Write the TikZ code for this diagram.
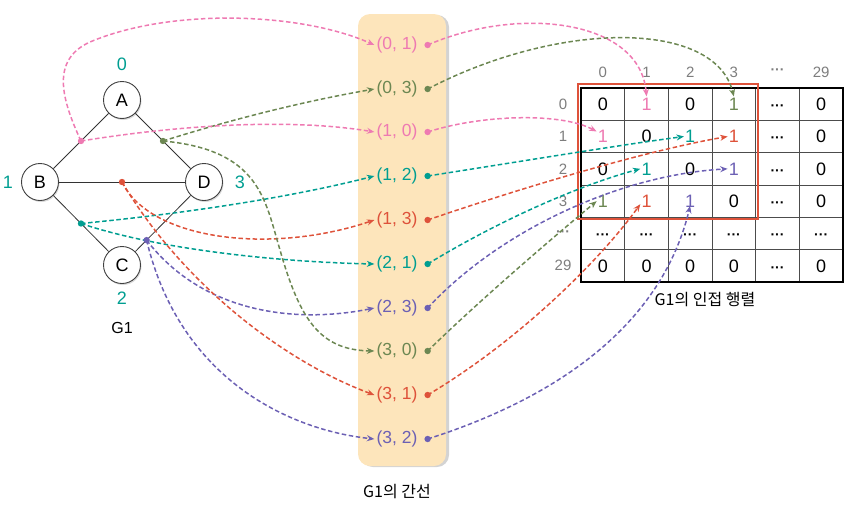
\documentclass[tikz,border=0pt]{standalone}
\usepackage{fontspec}
\setmainfont{Liberation Sans}
\newfontfamily\kr{Noto Sans CJK KR}
\usetikzlibrary{arrows.meta,shadows,calc}
\definecolor{cpink}{RGB}{238,122,178}
\definecolor{colive}{RGB}{108,135,82}
\definecolor{cred}{RGB}{222,82,58}
\definecolor{cteal}{RGB}{0,158,145}
\definecolor{cpurple}{RGB}{108,96,180}
\definecolor{cgray}{RGB}{125,125,125}
\definecolor{cfill}{RGB}{253,229,187}
\newcommand{\mydots}{{\fontsize{14}{14}\selectfont\bfseries ···}}
\tikzset{
  vert/.style={circle, draw=black!75, fill=white, line width=0.9pt, minimum size=37pt, inner sep=0pt,
    font=\fontsize{18}{18}\selectfont, drop shadow={shadow xshift=1pt,shadow yshift=-1.5pt,opacity=0.3}},
  gedge/.style={line width=0.8pt, draw=black!80},
  vlab/.style={text=cteal, font=\fontsize{18}{18}\selectfont},
  elab/.style={inner sep=2pt, font=\fontsize{17.5}{17.5}\selectfont},
  cell/.style={inner sep=1pt, font=\fontsize{18}{18}\selectfont, text height=13pt, text depth=0pt},
  hdr/.style={text=cgray, font=\fontsize{15}{15}\selectfont},
  conn/.style={dash pattern=on 4.5pt off 2.6pt, line width=1.5pt, -{Stealth[length=7.5pt,width=6pt]}},
  caption/.style={font=\kr\fontsize{16}{16}\selectfont}
}
\begin{document}
\begin{tikzpicture}[x=1pt,y=-1pt]
\useasboundingbox (0,0) rectangle (848,506);
% ---- graph ----
\node[vert] (A) at (122,100) {A};
\node[vert] (B) at (40,182) {B};
\node[vert] (C) at (122,265) {C};
\node[vert] (D) at (204,182) {D};
\draw[gedge] (A) -- (B);
\draw[gedge] (A) -- (D);
\draw[gedge] (B) -- (D);
\draw[gedge] (B) -- (C);
\draw[gedge] (C) -- (D);
\node[vlab] (l0) at (122,64) {0};
\node[vlab] (l1) at (8,182) {1};
\node[vlab] (l3) at (240,182) {3};
\node[vlab] (l2) at (122,298) {2};
\node[font=\fontsize{16}{16}\selectfont] (g1) at (122,328) {G1};
\coordinate (pAB) at ($(A)!0.5!(B)$);
\coordinate (pAD) at ($(A)!0.5!(D)$);
\coordinate (pBD) at ($(B)!0.5!(D)$);
\coordinate (pBC) at ($(B)!0.5!(C)$);
\coordinate (pCD) at ($(C)!0.3!(D)$);
% ---- edge column ----
\node[fill=cfill, rounded corners=12pt, minimum width=88pt, minimum height=452pt, inner sep=0pt,
  drop shadow={shadow xshift=3pt,shadow yshift=-1pt,opacity=0.35}] (col) at (402,240) {};
\node[elab,text=cpink]   (e01) at (397,45)  {(0, 1)};
\node[elab,text=colive]  (e03) at (397,89)  {(0, 3)};
\node[elab,text=cpink]   (e10) at (397,132) {(1, 0)};
\node[elab,text=cteal]   (e12) at (397,176) {(1, 2)};
\node[elab,text=cred]    (e13) at (397,220) {(1, 3)};
\node[elab,text=cteal]   (e21) at (397,264) {(2, 1)};
\node[elab,text=cpurple] (e23) at (397,308) {(2, 3)};
\node[elab,text=colive]  (e30) at (397,351) {(3, 0)};
\node[elab,text=cred]    (e31) at (397,395) {(3, 1)};
\node[elab,text=cpurple] (e32) at (397,439) {(3, 2)};
\foreach \e in {01,03,10,12,13,21,23,30,31,32}{
  \coordinate (d\e) at ([xshift=8pt]e\e.east);
}
\node[caption] (cap1) at (397,492) {G1의 간선};
% ---- matrix ----
\foreach \i in {1,...,5}{
  \draw[line width=0.8pt, black!70] ({581+43.67*\i},88) -- ({581+43.67*\i},282);
  \draw[line width=0.8pt, black!70] (581,{88+32.33*\i}) -- (843,{88+32.33*\i});
}
\draw[line width=2.2pt] (581,88) rectangle (843,282);
\def\cx#1{581+43.67*(#1+0.5)}
\def\cy#1{88+32.33*(#1+0.5)}
% row 0
\node[cell] (m00) at ({\cx0},{\cy0}) {0};
\node[cell,text=cpink] (m01) at ({\cx1},{\cy0}) {1};
\node[cell] (m02) at ({\cx2},{\cy0}) {0};
\node[cell,text=colive] (m03) at ({\cx3},{\cy0}) {1};
\node[cell] (m04) at ({\cx4},{\cy0}) {\mydots};
\node[cell] (m05) at ({\cx5},{\cy0}) {0};
% row 1
\node[cell,text=cpink] (m10) at ({\cx0},{\cy1}) {1};
\node[cell] (m11) at ({\cx1},{\cy1}) {0};
\node[cell,text=cteal] (m12) at ({\cx2},{\cy1}) {1};
\node[cell,text=cred] (m13) at ({\cx3},{\cy1}) {1};
\node[cell] (m14) at ({\cx4},{\cy1}) {\mydots};
\node[cell] (m15) at ({\cx5},{\cy1}) {0};
% row 2
\node[cell] (m20) at ({\cx0},{\cy2}) {0};
\node[cell,text=cteal] (m21) at ({\cx1},{\cy2}) {1};
\node[cell] (m22) at ({\cx2},{\cy2}) {0};
\node[cell,text=cpurple] (m23) at ({\cx3},{\cy2}) {1};
\node[cell] (m24) at ({\cx4},{\cy2}) {\mydots};
\node[cell] (m25) at ({\cx5},{\cy2}) {0};
% row 3
\node[cell,text=colive] (m30) at ({\cx0},{\cy3}) {1};
\node[cell,text=cred] (m31) at ({\cx1},{\cy3}) {1};
\node[cell,text=cpurple] (m32) at ({\cx2},{\cy3}) {1};
\node[cell] (m33) at ({\cx3},{\cy3}) {0};
\node[cell] (m34) at ({\cx4},{\cy3}) {\mydots};
\node[cell] (m35) at ({\cx5},{\cy3}) {0};
% row 4
\foreach \c in {0,...,5}{ \node[cell] (m4\c) at ({\cx\c},{\cy4}) {\mydots}; }
% row 5
\foreach \c in {0,...,3}{ \node[cell] (m5\c) at ({\cx\c},{\cy5}) {0}; }
\node[cell] (m54) at ({\cx4},{\cy5}) {\mydots};
\node[cell] (m55) at ({\cx5},{\cy5}) {0};
% headers
\node[hdr] (h0) at ({\cx0},72) {0};
\node[hdr] (h1) at ({\cx1},72) {1};
\node[hdr] (h2) at ({\cx2},72) {2};
\node[hdr] (h3) at ({\cx3},72) {3};
\node[hdr] (h4) at ({\cx4},72) {\mydots};
\node[hdr] (h5) at ({\cx5},72) {29};
\node[hdr] (r0) at (563,{\cy0}) {0};
\node[hdr] (r1) at (563,{\cy1}) {1};
\node[hdr] (r2) at (563,{\cy2}) {2};
\node[hdr] (r3) at (563,{\cy3}) {3};
\node[hdr] (r4) at (563,{\cy4}) {\mydots};
\node[hdr] (r5) at (563,{\cy5}) {29};
\draw[line width=2pt, cred] (578,84) rectangle (758,219);
\node[caption] (cap2) at (705,300) {G1의 인접 행렬};
% ---- connectors graph -> column ----
\draw[conn,cpink] (pAB) .. controls (62,100) and (50,60) .. (90,42) .. controls (170,8) and (300,12) .. (e01.west);
\draw[conn,colive] (pAD) .. controls (230,120) and (300,102) .. (e03.west);
\draw[conn,cpink] (pAB) .. controls (180,125) and (290,118) .. (e10.west);
\draw[conn,cteal] (pBC) .. controls (200,212) and (300,195) .. (e12.west);
\draw[conn,cred] (pBD) .. controls (150,240) and (270,255) .. (e13.west);
\draw[conn,cteal] (pBC) .. controls (160,250) and (280,262) .. (e21.west);
\draw[conn,cpurple] (pCD) .. controls (200,310) and (290,325) .. (e23.west);
\draw[conn,colive] (pAD) .. controls (260,150) and (265,200) .. (280,250) .. controls (300,320) and (320,350) .. (e30.west);
\draw[conn,cred] (pBD) .. controls (180,280) and (280,360) .. (e31.west);
\draw[conn,cpurple] (pCD) .. controls (180,380) and (290,430) .. (e32.west);
% ---- connectors column -> matrix ----
\draw[conn,cpink] (d01) .. controls (520,5) and (640,20) .. (m01.north);
\draw[conn,colive] (d03) .. controls (560,20) and (715,20) .. (m03.north);
\draw[conn,cpink] (d10) .. controls (480,115) and (560,112) .. ([yshift=5pt]m10.west);
\draw[conn,cteal] (d12) .. controls (530,160) and (620,145) .. (m12.west);
\draw[conn,cred] (d13) .. controls (530,185) and (650,150) .. (m13.west);
\draw[conn,cteal] (d21) .. controls (500,220) and (580,185) .. (m21.west);
\draw[conn,cpurple] (d23) .. controls (500,230) and (620,175) .. (m23.west);
\draw[conn,colive] (d30) .. controls (480,300) and (550,240) .. (m30.west);
\draw[conn,cred] (d31) .. controls (520,340) and (600,260) .. ([yshift=-3pt]m31.west);
\draw[conn,cpurple] (d32) .. controls (550,400) and (660,330) .. ([yshift=3pt]m32.south);
% ---- dots ----
\fill[cpink] (pAB) circle (3.2pt);
\fill[colive] (pAD) circle (3.2pt);
\fill[cred] (pBD) circle (3.2pt);
\fill[cteal] (pBC) circle (3.2pt);
\fill[cpurple] (pCD) circle (3.2pt);
\foreach \e/\c in {01/cpink,03/colive,10/cpink,12/cteal,13/cred,21/cteal,23/cpurple,30/colive,31/cred,32/cpurple}{
  \fill[\c] (d\e) circle (3.2pt);
}
\end{tikzpicture}
\end{document}
